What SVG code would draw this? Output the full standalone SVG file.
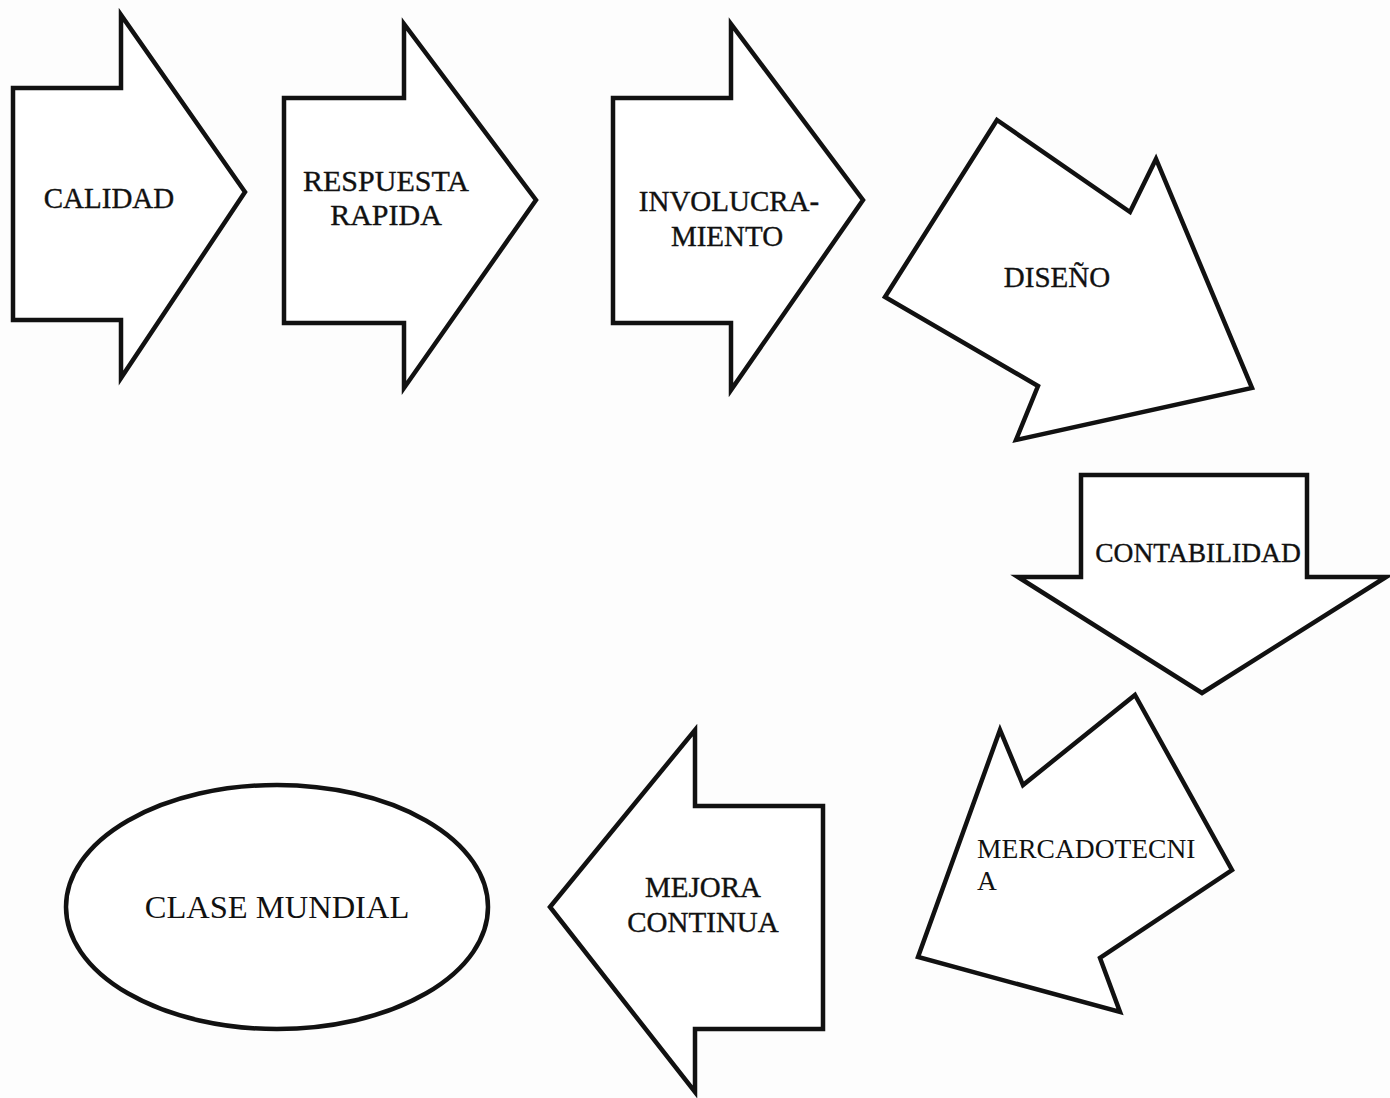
<svg xmlns="http://www.w3.org/2000/svg" width="1390" height="1098" viewBox="0 0 1390 1098">
  <style>
    .shape { fill: #ffffff; stroke: #111111; stroke-width: 4.5; stroke-linejoin: miter; }
    .label { font-family: "Liberation Serif", "Times New Roman", serif; font-size: 29px; fill: #111111; stroke: #111111; stroke-width: 0.35; text-anchor: middle; }
    .left { text-anchor: start; }
    .small { font-size: 27.5px; }
    .wide { font-size: 30px; }
    .big { font-size: 32.5px; stroke-width: 0; }
    .light { stroke-width: 0; }
  </style>
  <rect width="1390" height="1098" fill="#fdfdfd"/>

  <g id="connectors"></g>

  <g id="calidad">
    <polygon class="shape" points="13,88 121,88 121,15 245,192 121,378 121,320 13,320"/>
    <text class="label" x="109" y="208">CALIDAD</text>
  </g>

  <g id="respuesta-rapida">
    <polygon class="shape" points="284,98 404,98 404,24 536,200 404,388 404,323 284,323"/>
    <text class="label wide" x="386" y="191">RESPUESTA</text>
    <text class="label wide" x="386" y="225">RAPIDA</text>
  </g>

  <g id="involucramiento">
    <polygon class="shape" points="613,98 731,98 731,24 863,200 731,390 731,323 613,323"/>
    <text class="label" x="729" y="211">INVOLUCRA-</text>
    <text class="label" x="727" y="246">MIENTO</text>
  </g>

  <g id="diseno">
    <polygon class="shape" points="997,120 1130,212 1156,159 1252,388 1016,440 1038,386 885,297"/>
    <text class="label" x="1057" y="287">DISEÑO</text>
  </g>

  <g id="contabilidad">
    <polygon class="shape" points="1081,475 1307,475 1307,577 1386,577 1202,693 1018,577 1081,577"/>
    <text class="label small" x="1198" y="562">CONTABILIDAD</text>
  </g>

  <g id="mercadotecnia">
    <polygon class="shape" points="1135,695 1232,870 1100,958 1120,1012 918,957 1000,730 1023,785"/>
    <text class="label small left light" x="977" y="858">MERCADOTECNI</text>
    <text class="label small left light" x="977" y="890">A</text>
  </g>

  <g id="mejora-continua">
    <polygon class="shape" points="550,907 695,730 695,806 823,806 823,1029 695,1029 695,1092"/>
    <text class="label" x="703" y="897">MEJORA</text>
    <text class="label" x="703" y="932">CONTINUA</text>
  </g>

  <g id="clase-mundial">
    <ellipse class="shape" cx="277" cy="907" rx="211" ry="122"/>
    <text class="label big" x="277" y="918">CLASE MUNDIAL</text>
  </g>
</svg>
